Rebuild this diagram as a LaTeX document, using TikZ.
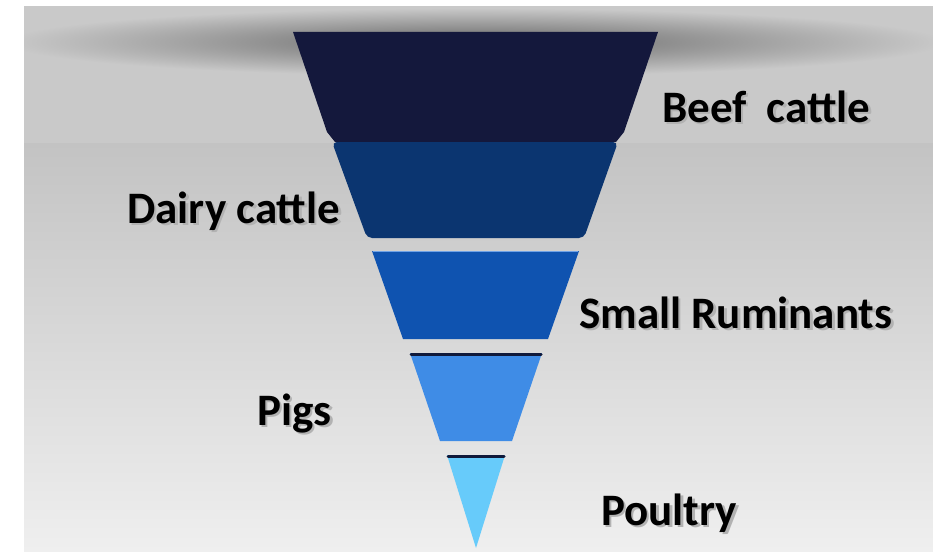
\documentclass[tikz,border=0pt]{standalone}
\usepackage{fontspec}
\setmainfont{Carlito}
\usepackage{xcolor}
\usepackage{tikz}

\definecolor{bgtop}{HTML}{C9C9C9}
\definecolor{bgmid}{HTML}{C3C3C3}
\definecolor{bgbot}{HTML}{EFEFEF}
\definecolor{beefc}{HTML}{14183C}
\definecolor{dairyc}{HTML}{0B3570}
\definecolor{smallc}{HTML}{0F53B0}
\definecolor{pigsc}{HTML}{3F8CE6}
\definecolor{poultryc}{HTML}{67CBFA}
\definecolor{darkline}{HTML}{10193A}
\definecolor{smalledge}{HTML}{6FA2E6}

\newcommand{\shadowed}[1]{\makebox[0pt][l]{\kern2.5pt\raisebox{-2.5pt}{\textcolor{black!30}{#1}}}#1}

\tikzset{
  lbl/.style={anchor=base west, inner sep=0pt, font=\fontsize{45}{54}\selectfont\bfseries},
  topline/.style={darkline, line width=3pt, line cap=round}
}

\begin{document}
\begin{tikzpicture}[x=1pt, y=-1pt]
  \useasboundingbox (0,0) rectangle (933,551);
  \fill[white] (0,0) rectangle (933,551);
  \fill[bgtop] (24,6) rectangle (933,143);
  \shade[top color=bgmid, bottom color=bgbot] (24,143) rectangle (933,551);
  \begin{scope}
    \clip (24,6) rectangle (933,143);
    \shade[inner color=black!60, outer color=bgtop] (475,42) ellipse (470pt and 34pt);
  \end{scope}

  \fill[beefc] (293,32) -- (658,32) -- (624,132) -- (616,142) -- (335,142) -- (327,132) -- cycle;
  \fill[dairyc, rounded corners=5pt] (332,142) -- (618,142) -- (584,238) -- (367,238) -- cycle;
  \fill[smallc] (372,251) -- (579,251) -- (548,339) -- (403,339) -- cycle;
  \draw[smalledge, line width=1pt] (373,251.5) -- (578,251.5);
  \fill[pigsc] (410,353) -- (542,353) -- (512,441) -- (440,441) -- cycle;
  \draw[topline] (411,354) -- (541,354);
  \fill[poultryc] (447,455) -- (505,455) -- (476,548) -- cycle;
  \draw[topline] (448,456) -- (504,456);

  \node[lbl] (beef) at (662,122) {\shadowed{Beef~ cattle}};
  \node[lbl] (dairy) at (127,223) {\shadowed{Dairy cattle}};
  \node[lbl] (small) at (579,328) {\shadowed{Small Ruminants}};
  \node[lbl] (pigs) at (257,425) {\shadowed{Pigs}};
  \node[lbl] (poultry) at (601,525) {\shadowed{Poultry}};
\end{tikzpicture}
\end{document}
